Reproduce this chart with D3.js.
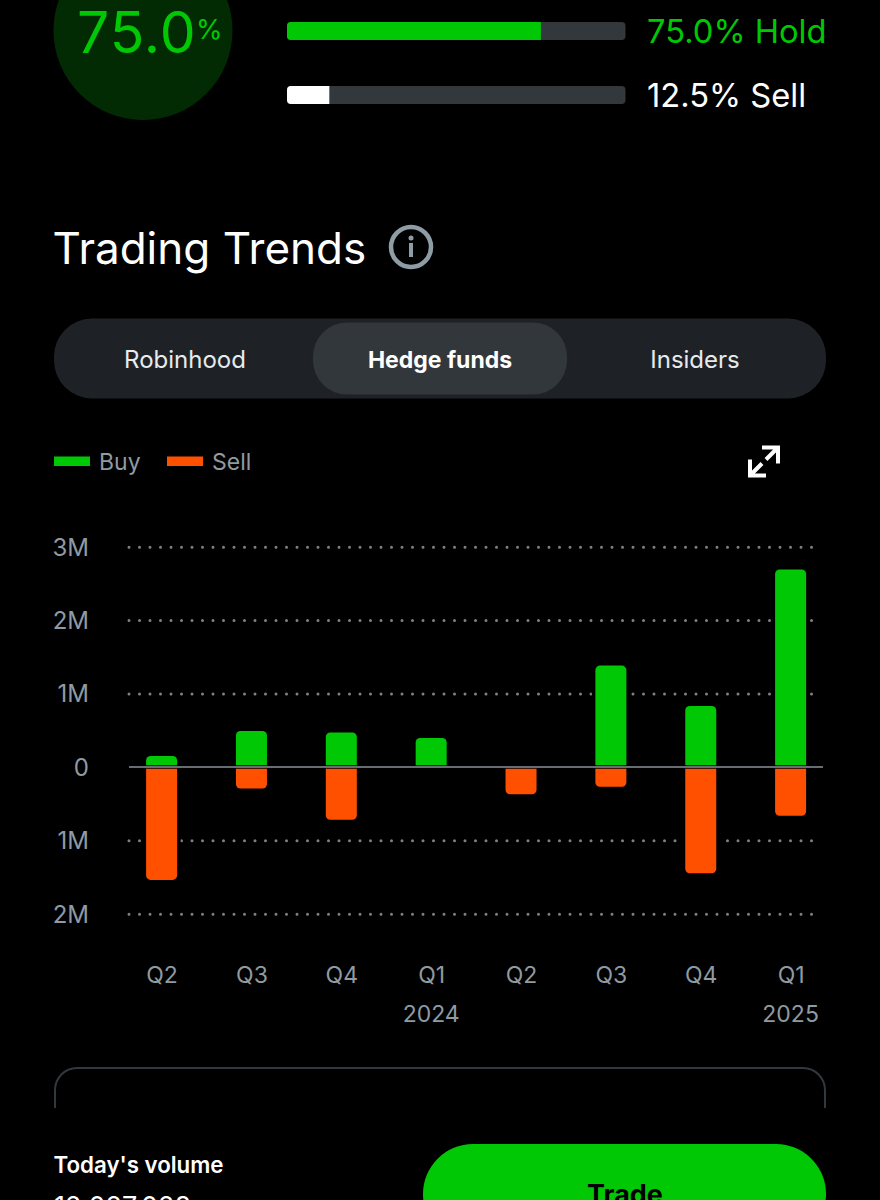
<!DOCTYPE html>
<html>
<head>
<meta charset="utf-8">
<script src="https://cdn.jsdelivr.net/npm/d3@7"></script>
<style>
  html, body { margin: 0; padding: 0; background: #000; }
  svg { display: block; font-family: Inter, "Noto Sans", sans-serif; }
  .tick text { font-family: Inter, "Noto Sans", sans-serif; }
</style>
</head>
<body>
<div id="chart"></div>
<script>
// --- chart data ---
const quarters = ["Q2", "Q3", "Q4", "Q1", "Q2", "Q3", "Q4", "Q1"];
const buyValues = [0.15, 0.49, 0.47, 0.395, 0, 1.38, 0.83, 2.69];
const sellValues = [1.54, 0.295, 0.72, 0, 0.373, 0.27, 1.45, 0.665];
const yTicks = [3, 2, 1, 0, -1, -2];
const yearLabels = [{ index: 3, label: "2024" }, { index: 7, label: "2025" }];
const tabLabels = ["Robinhood", "Hedge funds", "Insiders"];
const ratingLabels = ["75.0% Hold", "12.5% Sell"];
const ratingValues = [75, 12.5];

const GREEN = "#00c805";
const ORANGE = "#ff5000";
const MUTED = "#8f9aa1";

const svg = d3.select("#chart").append("svg")
    .attr("width", 880)
    .attr("height", 1200);

// --- top summary ---
svg.append("circle").attr("cx", 143).attr("cy", 30.5).attr("r", 89.5).attr("fill", "#032b03");
svg.append("text").attr("x", 77).attr("y", 52.5).attr("font-size", 57).attr("letter-spacing", 1).attr("fill", GREEN).text("75.0");
svg.append("text").attr("x", 196).attr("y", 39).attr("font-size", 27).attr("fill", GREEN).text("%");

const ratingX = d3.scaleLinear().domain([0, 100]).range([287, 625.5]);
const ratingY = d3.scalePoint().domain(d3.range(2)).range([31, 95]);

const ratings = svg.append("g").selectAll("g").data(ratingValues).join("g")
    .attr("transform", (d, i) => `translate(0,${ratingY(i)})`);
ratings.append("rect")
    .attr("x", ratingX(0)).attr("y", -9)
    .attr("width", ratingX(100) - ratingX(0)).attr("height", 18)
    .attr("rx", 4).attr("fill", "#33383c");
ratings.append("path")
    .attr("fill", (d, i) => i === 0 ? GREEN : "#fff")
    .attr("d", d => `M${ratingX(d)},-9H${ratingX(0) + 4}a4,4 0 0 0 -4,4V5a4,4 0 0 0 4,4H${ratingX(d)}Z`);
ratings.append("text")
    .attr("x", 647).attr("y", 12).attr("font-size", 32.7)
    .attr("fill", (d, i) => i === 0 ? GREEN : "#fff")
    .text((d, i) => ratingLabels[i]);

// --- heading ---
svg.append("text").attr("x", 52.5).attr("y", 263.5).attr("font-size", 44).attr("fill", "#fff").text("Trading Trends");
const info = svg.append("g").attr("transform", "translate(411,247)");
info.append("circle").attr("r", 20).attr("fill", "none").attr("stroke", "#8e9ca5").attr("stroke-width", 4.5);
info.append("rect").attr("x", -2).attr("y", -4).attr("width", 4).attr("height", 14).attr("fill", "#8e9ca5");
info.append("circle").attr("cy", -9).attr("r", 2.5).attr("fill", "#8e9ca5");

// --- tabs ---
svg.append("rect").attr("x", 54).attr("y", 318.5).attr("width", 772).attr("height", 80).attr("rx", 38).attr("fill", "#1e2226");
svg.append("rect").attr("x", 313).attr("y", 322.5).attr("width", 254).attr("height", 72).attr("rx", 34).attr("fill", "#32373b");
const tabX = d3.scalePoint().domain(tabLabels).range([185, 695]);
svg.append("g").selectAll("text").data(tabLabels).join("text")
    .attr("x", d => tabX(d)).attr("y", 367.5)
    .attr("text-anchor", "middle")
    .attr("font-size", d => d === "Hedge funds" ? 23 : 24)
    .attr("font-weight", d => d === "Hedge funds" ? 700 : 400)
    .attr("fill", d => d === "Hedge funds" ? "#fff" : "#e8eaec")
    .text(d => d);

// --- legend ---
const legend = [{ x: 54, label: "Buy", color: GREEN }, { x: 167, label: "Sell", color: ORANGE }];
const legendG = svg.append("g").selectAll("g").data(legend).join("g")
    .attr("transform", d => `translate(${d.x},0)`);
legendG.append("rect").attr("y", 456.5).attr("width", 36).attr("height", 9.5).attr("fill", d => d.color);
legendG.append("text").attr("x", 45).attr("y", 470).attr("font-size", 23).attr("fill", MUTED).text(d => d.label);

// expand icon
svg.append("path")
    .attr("transform", "translate(764,461.5)")
    .attr("fill", "none").attr("stroke", "#fff").attr("stroke-width", 4)
    .attr("d", "M-2,-14H14V2 M13,-13L2,-2 M-14,-2V14H2 M-13,13L-2,2");

// --- bar chart ---
const x = d3.scalePoint().domain(d3.range(quarters.length)).range([161.6, 790.6]);
const y = d3.scaleLinear().domain([-2, 3]).range([913.7, 546.7]);
const barW = 31;

// y axis labels and dotted grid from the same ticks
const yAxis = svg.append("g")
    .attr("transform", "translate(129,0)")
    .call(d3.axisLeft(y).tickValues(yTicks).tickSize(0).tickPadding(40)
        .tickFormat(d => d === 0 ? "0" : Math.abs(d) + "M"));
yAxis.select(".domain").remove();
yAxis.selectAll("text").attr("font-size", 24).attr("fill", MUTED).attr("dy", "0.35em");
yAxis.selectAll(".tick").filter(d => d !== 0).append("line")
    .attr("x1", 0).attr("x2", 686)
    .attr("stroke", "#7c8387").attr("stroke-width", 3)
    .attr("stroke-linecap", "round").attr("stroke-dasharray", "0 10.5");

// bars have a square end at zero and rounded corners at the far end
function barPath(i, v, dir) {
    const r = 4.5, l = x(i) - barW / 2, rgt = x(i) + barW / 2;
    const y0 = y(0), y1 = y(dir * v);
    const s = dir > 0 ? 1 : 0, k = dir > 0 ? r : -r;
    return `M${l},${y0}V${y1 + k}A${r},${r} 0 0 ${s} ${l + r},${y1}H${rgt - r}A${r},${r} 0 0 ${s} ${rgt},${y1 + k}V${y0}Z`;
}

const barRows = (values) => values.map((v, i) => ({ v, i })).filter(d => d.v > 0);

// black halo first so it cuts the grid dots, but not the other series
const haloG = svg.append("g");
const barG = svg.append("g");
[[buyValues, 1, GREEN], [sellValues, -1, ORANGE]].forEach(([values, dir, color]) => {
    haloG.append("g").selectAll("path").data(barRows(values)).join("path")
        .attr("d", d => barPath(d.i, d.v, dir))
        .attr("fill", "#000").attr("stroke", "#000").attr("stroke-width", 7);
    barG.append("g").selectAll("path").data(barRows(values)).join("path")
        .attr("d", d => barPath(d.i, d.v, dir))
        .attr("fill", color);
});

// zero line
svg.append("line").attr("x1", 129).attr("x2", 823).attr("y1", y(0)).attr("y2", y(0))
    .attr("stroke", "#000").attr("stroke-width", 3.5);
svg.append("line").attr("x1", 129).attr("x2", 823).attr("y1", y(0)).attr("y2", y(0))
    .attr("stroke", "#676d72").attr("stroke-width", 2);

// x axis labels
const xAxis = svg.append("g")
    .attr("transform", "translate(0,983)")
    .call(d3.axisBottom(x).tickSize(0).tickPadding(0).tickFormat(i => quarters[i]));
xAxis.select(".domain").remove();
xAxis.selectAll("text").attr("font-size", 23).attr("fill", MUTED).attr("dy", 0);

svg.append("g").selectAll("text").data(yearLabels).join("text")
    .attr("x", d => x(d.index)).attr("y", 1021.5)
    .attr("text-anchor", "middle").attr("font-size", 23).attr("fill", MUTED)
    .text(d => d.label);

// --- bottom part ---
svg.append("path")
    .attr("fill", "none").attr("stroke", "#33383c").attr("stroke-width", 2)
    .attr("d", "M55,1108V1090a22,22 0 0 1 22,-22H803a22,22 0 0 1 22,22V1108");
svg.append("text").attr("x", 53.5).attr("y", 1173).attr("font-size", 22.3).attr("font-weight", 600).attr("fill", "#fff").text("Today's volume");
svg.append("text").attr("x", 54).attr("y", 1216).attr("font-size", 27).attr("fill", "#fff").text("12,027,028");
svg.append("rect").attr("x", 423).attr("y", 1144).attr("width", 403).attr("height", 100).attr("rx", 50).attr("fill", GREEN);
svg.append("text").attr("x", 625).attr("y", 1204).attr("text-anchor", "middle").attr("font-size", 27).attr("font-weight", 700).attr("fill", "#000").text("Trade");
</script>
</body>
</html>
